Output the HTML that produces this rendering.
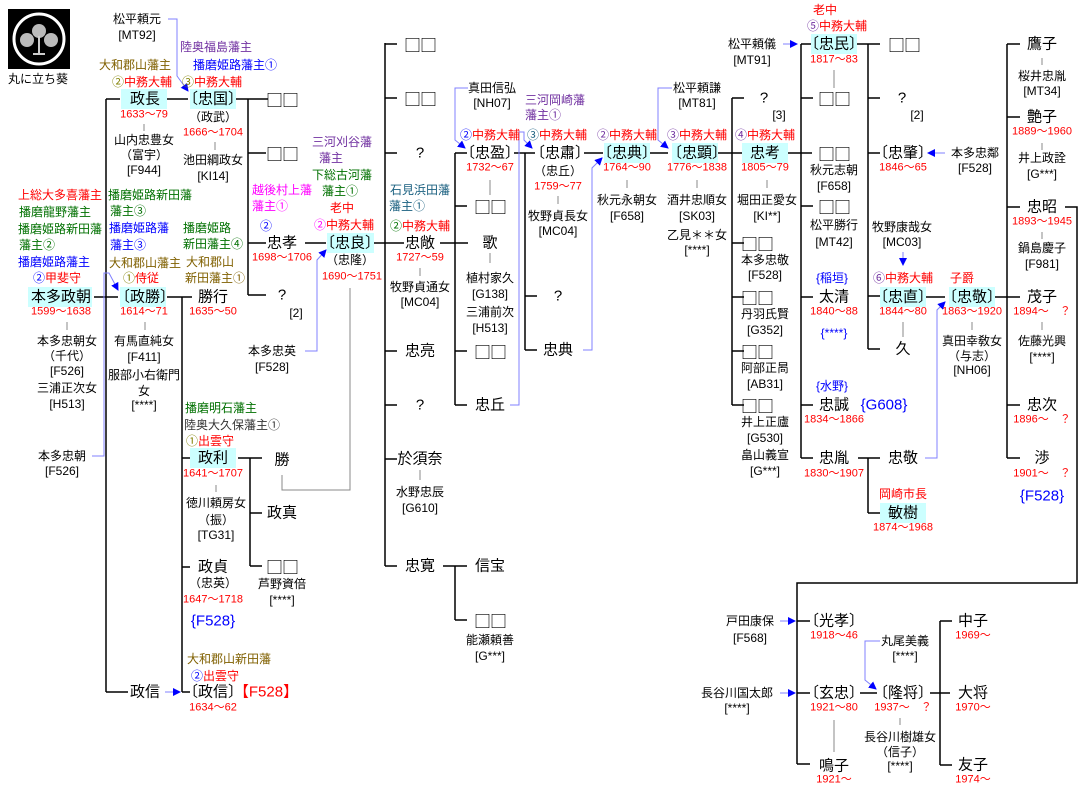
<!DOCTYPE html>
<html><head><meta charset="utf-8">
<style>
body{margin:0;background:#fff;}
#w{position:relative;width:1080px;height:801px;overflow:hidden;font-family:"Liberation Sans","Noto Sans CJK JP",sans-serif;color:#000;}
.c{position:absolute;transform:translate(-50%,-50%);white-space:nowrap;line-height:1;}
.n{font-size:15px;}
.s{font-size:12px;}
.d{font-size:11px;color:#f00;}
.q{font-family:"Noto Sans CJK JP",sans-serif;font-size:17px;letter-spacing:-1px;}
.r{color:#f00}.b{color:#00f}.g{color:#007000}.p{color:#7030a0}.br{color:#806000}.m{color:#f0f}.t{color:#1a6080}.o{color:#808000}.dk{color:#333}
svg{position:absolute;left:0;top:0;}
</style></head><body><div id="w">
<svg width="1080" height="801">
<defs><marker id="a" markerWidth="8" markerHeight="8" refX="7" refY="4" orient="auto" markerUnits="userSpaceOnUse"><path d="M0,0 L8,4 L0,8 z" fill="#00f"/></marker></defs>
<rect x="8" y="9" width="62" height="60" fill="#000"/>
<circle cx="39" cy="39" r="25" fill="none" stroke="#fff" stroke-width="3"/>
<circle cx="39" cy="31" r="7" fill="#bbb"/><circle cx="27" cy="40" r="7" fill="#bbb"/><circle cx="51" cy="40" r="7" fill="#bbb"/>
<path d="M39 36 V54 M33 54 H45" stroke="#ccc" stroke-width="2"/>
<g fill="#ccffff">
<rect x="121" y="89" width="46" height="20"/><rect x="190" y="89" width="46" height="20"/>
<rect x="28" y="287" width="64" height="20"/><rect x="120" y="287" width="46" height="20"/>
<rect x="190" y="448" width="46" height="20"/><rect x="327" y="233" width="47" height="20"/>
<rect x="604" y="143" width="46" height="20"/><rect x="672" y="143" width="46" height="20"/>
<rect x="742" y="143" width="46" height="20"/><rect x="811" y="34" width="46" height="20"/>
<rect x="880" y="287" width="46" height="20"/><rect x="949" y="287" width="46" height="20"/>
<rect x="880" y="503" width="46" height="20"/>
</g>
<g stroke="#000" stroke-width="1.5" fill="none">
<path d="M106 99V692M106 99H120M106 692H128M94 297H118M167 99H188"/>
<path d="M236 99H268M248 99V295M248 153H266M248 243H266M248 295H266"/>
<path d="M167 297H192M182 297V692M182 458H190M182 567H190M182 692H190"/>
<path d="M238 458H262M250 458V566M250 513H262M250 566H262"/>
<path d="M305 243H326M374 243H404M385 43V566M385 44H397M385 98H397M385 153H397M385 351H397M385 405H397M385 459H397M385 566H397"/>
<path d="M440 243H468M455 153V405M455 153H467M455 206H467M455 351H467M455 405H467"/>
<path d="M443 566H467M455 566V620M455 620H467"/>
<path d="M514 153H535M525 153V350M525 296H537M525 350H537M584 153H603M650 153H668"/>
<path d="M718 153H742M732 98V405M732 98H744M732 243H744M732 297H744M732 351H744M732 405H744"/>
<path d="M788 153H812M801 44V458M801 44H811M801 98H813M801 206H813M801 297H813M801 405H813M801 458H813"/>
<path d="M857 44H880M868 44V349M868 98H880M868 153H880M868 296H880M868 349H880"/>
<path d="M926 297H945M995 297H1020M1007 44V458M1007 44H1020M1007 117H1020M1007 207H1020M1007 405H1020M1007 458H1020"/>
<path d="M858 458H880M868 458V513M868 513H880"/>
<path d="M1065 207H1077V583H797V764M797 621H810M797 693H810M797 764H810"/>
<path d="M860 693H877M930 693H950M940 621V765M940 621H952M940 765H952"/>
</g>
<g stroke="#888" stroke-width="1" fill="none">
<path d="M144 124V131M215 142V150M67 322V330M145 322V330M216 485V492M420 268V276M490 180V195M490 253V263M558 196V204M627 180V188M697 180V188M767 180V188M834 70V88M903 322V337M972 322V330M1042 58V65M1042 143V150M1042 232V239M1042 322V330M420 470V480M834 720V752M900 718V725"/>
<path d="M350 288V490H282V475"/>
</g>
<g stroke="#8080ff" stroke-width="1" fill="none" marker-end="url(#a)">
<path d="M168 19H177V76L188 91"/>
<path d="M305 351H317V260L326 250"/>
<path d="M92 456H104V273H109L118 290"/>
<path d="M468 88H455V140L465 148"/>
<path d="M510 405H519V132H524V140L532 148"/>
<path d="M583 350H592V168L602 158"/>
<path d="M672 88H658V140L668 148"/>
<path d="M783 44H797"/><path d="M945 153H928"/><path d="M903 252V265"/>
<path d="M925 458H937V310L945 302"/>
<path d="M165 692H180"/><path d="M780 621H795"/><path d="M780 693H795"/>
<path d="M880 641H865V680L876 689"/>
</g>
</svg>

<div class="c s" style="left:38px;top:79px">丸に立ち葵</div>
<div class="c s" style="left:137px;top:19px">松平頼元</div><div class="c s" style="left:137px;top:35px">[MT92]</div>
<div class="c s p" style="left:216px;top:47px">陸奥福島藩主</div><div class="c s b" style="left:235px;top:65px">播磨姫路藩主①</div>
<div class="c s br" style="left:135px;top:65px">大和郡山藩主</div>
<div class="c s" style="left:142px;top:82px"><span class="o">②</span><span class="r">中務大輔</span></div>
<div class="c s" style="left:212px;top:82px"><span class="o">③</span><span class="r">中務大輔</span></div>
<div class="c n" style="left:145px;top:99px">政長</div><div class="c d" style="left:144px;top:115px">1633～79</div>
<div class="c s" style="left:144px;top:140px">山内忠豊女</div><div class="c s" style="left:144px;top:155px">（富宇）</div><div class="c s" style="left:144px;top:170px">[F944]</div>
<div class="c n" style="left:213px;top:99px">〔忠国〕</div><div class="c s" style="left:213px;top:117px">（政武）</div><div class="c d" style="left:213px;top:133px">1666～1704</div>
<div class="c s" style="left:213px;top:160px">池田綱政女</div><div class="c s" style="left:213px;top:176px">[KI14]</div>
<div class="c q" style="left:282px;top:99px">□□</div><div class="c q" style="left:282px;top:153px">□□</div>
<div class="c s m" style="left:282px;top:190px">越後村上藩</div><div class="c s m" style="left:270px;top:206px">藩主①</div>
<div class="c s p" style="left:342px;top:142px">三河刈谷藩</div><div class="c s p" style="left:331px;top:158px">藩主</div>
<div class="c s g" style="left:342px;top:175px">下総古河藩</div><div class="c s g" style="left:340px;top:191px">藩主①</div>
<div class="c s r" style="left:60px;top:195px">上総大多喜藩主</div>
<div class="c s g" style="left:55px;top:212px">播磨龍野藩主</div>
<div class="c s g" style="left:60px;top:229px">播磨姫路新田藩</div>
<div class="c s g" style="left:37px;top:245px">藩主②</div>
<div class="c s b" style="left:54px;top:262px">播磨姫路藩主</div>
<div class="c s" style="left:57px;top:278px"><span class="b">②</span><span class="r">甲斐守</span></div>
<div class="c n" style="left:61px;top:297px">本多政朝</div><div class="c d" style="left:61px;top:312px">1599～1638</div>
<div class="c s" style="left:67px;top:341px">本多忠朝女</div><div class="c s" style="left:67px;top:356px">（千代）</div><div class="c s" style="left:67px;top:371px">[F526]</div>
<div class="c s" style="left:67px;top:388px">三浦正次女</div><div class="c s" style="left:67px;top:404px">[H513]</div>
<div class="c s g" style="left:150px;top:195px">播磨姫路新田藩</div><div class="c s g" style="left:128px;top:211px">藩主③</div>
<div class="c s b" style="left:139px;top:228px">播磨姫路藩</div><div class="c s b" style="left:128px;top:245px">藩主③</div>
<div class="c s br" style="left:145px;top:263px">大和郡山藩主</div>
<div class="c s" style="left:141px;top:278px"><span class="o">①</span><span class="r">侍従</span></div>
<div class="c n" style="left:145px;top:297px">〔政勝〕</div><div class="c d" style="left:144px;top:312px">1614～71</div>
<div class="c s" style="left:144px;top:341px">有馬直純女</div><div class="c s" style="left:144px;top:357px">[F411]</div>
<div class="c s" style="left:144px;top:375px">服部小右衛門</div><div class="c s" style="left:144px;top:391px">女</div><div class="c s" style="left:144px;top:405px">[****]</div>
<div class="c n" style="left:213px;top:297px">勝行</div><div class="c d" style="left:213px;top:312px">1635～50</div>
<div class="c s g" style="left:207px;top:228px">播磨姫路</div><div class="c s g" style="left:213px;top:244px">新田藩主④</div>
<div class="c s br" style="left:210px;top:262px">大和郡山</div><div class="c s br" style="left:215px;top:278px">新田藩主①</div>
<div class="c s b" style="left:266px;top:226px">②</div>
<div class="c n" style="left:282px;top:243px">忠孝</div><div class="c d" style="left:282px;top:258px">1698～1706</div>
<div class="c n" style="left:282px;top:295px">?</div><div class="c s" style="left:296px;top:313px">[2]</div>
<div class="c s r" style="left:342px;top:208px">老中</div>
<div class="c s" style="left:344px;top:225px"><span class="m">②</span><span class="r">中務大輔</span></div>
<div class="c n" style="left:350px;top:243px">〔忠良〕</div><div class="c s" style="left:350px;top:260px">（忠隆）</div><div class="c d" style="left:352px;top:277px">1690～1751</div>
<div class="c s" style="left:272px;top:351px">本多忠英</div><div class="c s" style="left:272px;top:367px">[F528]</div>
<div class="c s" style="left:62px;top:456px">本多忠朝</div><div class="c s" style="left:62px;top:471px">[F526]</div>
<div class="c s g" style="left:221px;top:408px">播磨明石藩主</div><div class="c s dk" style="left:232px;top:425px">陸奥大久保藩主①</div>
<div class="c s" style="left:210px;top:441px"><span class="o">①</span><span class="r">出雲守</span></div>
<div class="c n" style="left:213px;top:458px">政利</div><div class="c d" style="left:213px;top:474px">1641～1707</div>
<div class="c s" style="left:216px;top:503px">徳川頼房女</div><div class="c s" style="left:216px;top:520px">（振）</div><div class="c s" style="left:216px;top:535px">[TG31]</div>
<div class="c n" style="left:282px;top:460px">勝</div><div class="c n" style="left:282px;top:513px">政真</div>
<div class="c q" style="left:282px;top:566px">□□</div><div class="c s" style="left:282px;top:584px">芦野資倍</div><div class="c s" style="left:282px;top:600px">[****]</div>
<div class="c n" style="left:213px;top:567px">政貞</div><div class="c s" style="left:213px;top:583px">（忠英）</div><div class="c d" style="left:213px;top:600px">1647～1718</div>
<div class="c n b" style="left:213px;top:621px">{F528}</div>
<div class="c s br" style="left:229px;top:659px">大和郡山新田藩</div>
<div class="c s" style="left:215px;top:676px"><span class="b">②</span><span class="r">出雲守</span></div>
<div class="c n" style="left:145px;top:692px">政信</div>
<div class="c n" style="left:213px;top:692px">〔政信〕</div><div class="c n r" style="left:266px;top:692px">【F528】</div><div class="c d" style="left:213px;top:708px">1634～62</div>

<div class="c q" style="left:420px;top:44px">□□</div><div class="c q" style="left:420px;top:98px">□□</div><div class="c n" style="left:420px;top:153px">?</div>
<div class="c s t" style="left:420px;top:190px">石見浜田藩</div><div class="c s t" style="left:407px;top:206px">藩主①</div>
<div class="c s" style="left:420px;top:226px"><span class="g">②</span><span class="r">中務大輔</span></div>
<div class="c n" style="left:420px;top:243px">忠敞</div><div class="c d" style="left:420px;top:258px">1727～59</div>
<div class="c s" style="left:420px;top:287px">牧野貞通女</div><div class="c s" style="left:420px;top:302px">[MC04]</div>
<div class="c n" style="left:420px;top:351px">忠亮</div><div class="c n" style="left:420px;top:405px">?</div>
<div class="c n" style="left:420px;top:459px">於須奈</div><div class="c s" style="left:420px;top:492px">水野忠辰</div><div class="c s" style="left:420px;top:508px">[G610]</div>
<div class="c n" style="left:420px;top:566px">忠寛</div><div class="c n" style="left:490px;top:566px">信宝</div>
<div class="c q" style="left:490px;top:620px">□□</div><div class="c s" style="left:490px;top:640px">能瀬頼善</div><div class="c s" style="left:490px;top:656px">[G***]</div>

<div class="c s" style="left:492px;top:88px">真田信弘</div><div class="c s" style="left:492px;top:103px">[NH07]</div>
<div class="c s" style="left:490px;top:135px"><span class="b">②</span><span class="r">中務大輔</span></div>
<div class="c n" style="left:490px;top:153px">〔忠盈〕</div><div class="c d" style="left:490px;top:168px">1732～67</div>
<div class="c q" style="left:490px;top:206px">□□</div><div class="c n" style="left:490px;top:243px">歌</div>
<div class="c s" style="left:490px;top:278px">植村家久</div><div class="c s" style="left:490px;top:294px">[G138]</div>
<div class="c s" style="left:490px;top:312px">三浦前次</div><div class="c s" style="left:490px;top:328px">[H513]</div>
<div class="c q" style="left:490px;top:351px">□□</div><div class="c n" style="left:490px;top:405px">忠丘</div>
<div class="c s p" style="left:555px;top:100px">三河岡崎藩</div><div class="c s p" style="left:543px;top:115px">藩主①</div>
<div class="c s" style="left:557px;top:135px"><span class="t">③</span><span class="r">中務大輔</span></div>
<div class="c n" style="left:560px;top:153px">〔忠肅〕</div><div class="c s" style="left:558px;top:171px">（忠丘）</div><div class="c d" style="left:558px;top:187px">1759～77</div>
<div class="c s" style="left:558px;top:216px">牧野貞長女</div><div class="c s" style="left:558px;top:231px">[MC04]</div>
<div class="c n" style="left:558px;top:296px">?</div><div class="c n" style="left:558px;top:350px">忠典</div>
<div class="c s" style="left:627px;top:135px"><span class="p">②</span><span class="r">中務大輔</span></div>
<div class="c n" style="left:627px;top:153px">〔忠典〕</div><div class="c d" style="left:627px;top:168px">1764～90</div>
<div class="c s" style="left:627px;top:200px">秋元永朝女</div><div class="c s" style="left:627px;top:216px">[F658]</div>
<div class="c s" style="left:697px;top:88px">松平頼謙</div><div class="c s" style="left:697px;top:103px">[MT81]</div>
<div class="c s" style="left:697px;top:135px"><span class="p">③</span><span class="r">中務大輔</span></div>
<div class="c n" style="left:697px;top:153px">〔忠顕〕</div><div class="c d" style="left:697px;top:168px">1776～1838</div>
<div class="c s" style="left:697px;top:200px">酒井忠順女</div><div class="c s" style="left:697px;top:216px">[SK03]</div>
<div class="c s" style="left:697px;top:235px">乙見＊＊女</div><div class="c s" style="left:697px;top:250px">[****]</div>

<div class="c n" style="left:764px;top:98px">?</div><div class="c s" style="left:779px;top:115px">[3]</div>
<div class="c s" style="left:765px;top:135px"><span class="p">④</span><span class="r">中務大輔</span></div>
<div class="c n" style="left:765px;top:153px">忠考</div><div class="c d" style="left:765px;top:168px">1805～79</div>
<div class="c s" style="left:767px;top:200px">堀田正愛女</div><div class="c s" style="left:767px;top:216px">[KI**]</div>
<div class="c q" style="left:757px;top:243px">□□</div><div class="c s" style="left:765px;top:260px">本多忠敬</div><div class="c s" style="left:765px;top:275px">[F528]</div>
<div class="c q" style="left:757px;top:297px">□□</div><div class="c s" style="left:765px;top:314px">丹羽氏賢</div><div class="c s" style="left:765px;top:330px">[G352]</div>
<div class="c q" style="left:757px;top:351px">□□</div><div class="c s" style="left:765px;top:368px">阿部正晑</div><div class="c s" style="left:765px;top:384px">[AB31]</div>
<div class="c q" style="left:757px;top:405px">□□</div><div class="c s" style="left:765px;top:422px">井上正廬</div><div class="c s" style="left:765px;top:438px">[G530]</div>
<div class="c s" style="left:765px;top:455px">畠山義宣</div><div class="c s" style="left:765px;top:471px">[G***]</div>

<div class="c s" style="left:752px;top:44px">松平頼儀</div><div class="c s" style="left:752px;top:60px">[MT91]</div>
<div class="c s r" style="left:825px;top:10px">老中</div>
<div class="c s" style="left:837px;top:26px"><span class="p">⑤</span><span class="r">中務大輔</span></div>
<div class="c n" style="left:834px;top:44px">〔忠民〕</div><div class="c d" style="left:834px;top:60px">1817～83</div>
<div class="c q" style="left:834px;top:98px">□□</div>
<div class="c q" style="left:834px;top:153px">□□</div><div class="c s" style="left:834px;top:170px">秋元志朝</div><div class="c s" style="left:834px;top:186px">[F658]</div>
<div class="c q" style="left:834px;top:206px">□□</div><div class="c s" style="left:834px;top:225px">松平勝行</div><div class="c s" style="left:834px;top:242px">[MT42]</div>
<div class="c s b" style="left:832px;top:278px">{稲垣}</div>
<div class="c n" style="left:834px;top:297px">太清</div><div class="c d" style="left:834px;top:312px">1840～88</div>
<div class="c s b" style="left:834px;top:333px">{****}</div>
<div class="c s b" style="left:832px;top:386px">{水野}</div>
<div class="c n" style="left:834px;top:405px">忠誠</div><div class="c n b" style="left:884px;top:405px">{G608}</div><div class="c d" style="left:834px;top:420px">1834～1866</div>
<div class="c n" style="left:834px;top:458px">忠胤</div><div class="c d" style="left:834px;top:474px">1830～1907</div>
<div class="c q" style="left:904px;top:44px">□□</div>
<div class="c n" style="left:902px;top:98px">?</div><div class="c s" style="left:917px;top:115px">[2]</div>
<div class="c n" style="left:903px;top:153px">〔忠肇〕</div><div class="c d" style="left:903px;top:168px">1846～65</div>
<div class="c s" style="left:975px;top:153px">本多忠鄰</div><div class="c s" style="left:975px;top:168px">[F528]</div>
<div class="c s" style="left:902px;top:227px">牧野康哉女</div><div class="c s" style="left:902px;top:242px">[MC03]</div>
<div class="c s" style="left:903px;top:278px"><span class="p">⑥</span><span class="r">中務大輔</span></div>
<div class="c n" style="left:903px;top:297px">〔忠直〕</div><div class="c d" style="left:903px;top:312px">1844～80</div>
<div class="c n" style="left:903px;top:349px">久</div>
<div class="c s r" style="left:962px;top:278px">子爵</div>
<div class="c n" style="left:972px;top:297px">〔忠敬〕</div><div class="c d" style="left:972px;top:312px">1863～1920</div>
<div class="c s" style="left:972px;top:341px">真田幸敎女</div><div class="c s" style="left:972px;top:356px">（与志）</div><div class="c s" style="left:972px;top:370px">[NH06]</div>
<div class="c n" style="left:903px;top:458px">忠敬</div>
<div class="c s r" style="left:903px;top:494px">岡崎市長</div>
<div class="c n" style="left:903px;top:513px">敏樹</div><div class="c d" style="left:903px;top:528px">1874～1968</div>

<div class="c n" style="left:1042px;top:44px">鷹子</div><div class="c s" style="left:1042px;top:76px">桜井忠胤</div><div class="c s" style="left:1042px;top:91px">[MT34]</div>
<div class="c n" style="left:1042px;top:117px">艶子</div><div class="c d" style="left:1042px;top:132px">1889～1960</div>
<div class="c s" style="left:1042px;top:158px">井上政詮</div><div class="c s" style="left:1042px;top:174px">[G***]</div>
<div class="c n" style="left:1042px;top:207px">忠昭</div><div class="c d" style="left:1042px;top:222px">1893～1945</div>
<div class="c s" style="left:1042px;top:248px">鍋島慶子</div><div class="c s" style="left:1042px;top:264px">[F981]</div>
<div class="c n" style="left:1042px;top:297px">茂子</div><div class="c d" style="left:1042px;top:312px">1894～　？</div>
<div class="c s" style="left:1042px;top:341px">佐藤光興</div><div class="c s" style="left:1042px;top:357px">[****]</div>
<div class="c n" style="left:1042px;top:405px">忠次</div><div class="c d" style="left:1042px;top:420px">1896～　？</div>
<div class="c n" style="left:1042px;top:458px">渉</div><div class="c d" style="left:1042px;top:474px">1901～　？</div>
<div class="c n b" style="left:1042px;top:496px">{F528}</div>

<div class="c s" style="left:750px;top:621px">戸田康保</div><div class="c s" style="left:750px;top:638px">[F568]</div>
<div class="c n" style="left:834px;top:621px">〔光孝〕</div><div class="c d" style="left:834px;top:636px">1918～46</div>
<div class="c s" style="left:737px;top:693px">長谷川国太郎</div><div class="c s" style="left:737px;top:708px">[****]</div>
<div class="c n" style="left:834px;top:693px">〔玄忠〕</div><div class="c d" style="left:834px;top:708px">1921～80</div>
<div class="c n" style="left:834px;top:766px">鳴子</div><div class="c d" style="left:834px;top:780px">1921～</div>
<div class="c s" style="left:905px;top:641px">丸尾美義</div><div class="c s" style="left:905px;top:656px">[****]</div>
<div class="c n" style="left:903px;top:693px">〔隆将〕</div><div class="c d" style="left:903px;top:708px">1937～　？</div>
<div class="c s" style="left:900px;top:737px">長谷川樹雄女</div><div class="c s" style="left:900px;top:752px">（信子）</div><div class="c s" style="left:900px;top:766px">[****]</div>
<div class="c n" style="left:973px;top:621px">中子</div><div class="c d" style="left:973px;top:636px">1969～</div>
<div class="c n" style="left:973px;top:693px">大将</div><div class="c d" style="left:973px;top:708px">1970～</div>
<div class="c n" style="left:973px;top:765px">友子</div><div class="c d" style="left:973px;top:780px">1974～</div>
</div></body></html>
